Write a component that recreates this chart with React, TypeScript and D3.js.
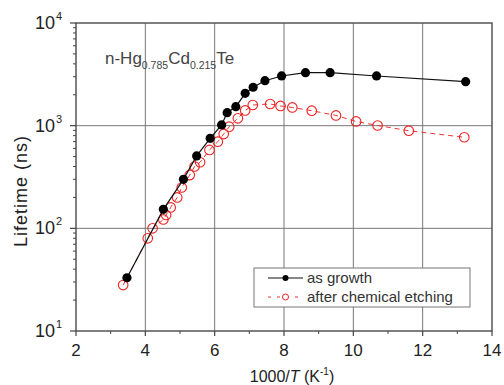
import React from 'react';
import * as d3 from 'd3';

// as growth
const growthX = [3.47, 4.52, 5.1, 5.48, 5.87, 6.2, 6.36, 6.61, 6.88, 7.11, 7.45, 7.93, 8.62, 9.33, 10.67, 13.24];
const growthY = [33, 153, 300, 507, 753, 1016, 1337, 1530, 2066, 2366, 2742, 3048, 3281, 3281, 3048, 2683];

// after chemical etching
const etchX = [3.36, 4.07, 4.21, 4.52, 4.6, 4.73, 4.92, 5.05, 5.28, 5.42, 5.58, 5.85, 6.09, 6.26, 6.42, 6.67, 6.88, 7.1, 7.6, 7.9, 8.24, 8.8, 9.5, 10.08, 10.7, 11.6, 13.2];
const etchY = [28, 80, 100, 122, 135, 160, 200, 250, 330, 400, 440, 580, 698, 829, 977, 1180, 1406, 1590, 1625, 1556, 1504, 1400, 1257, 1099, 1004, 893, 771];

const xTicks = [2, 4, 6, 8, 10, 12, 14];
const xMinor = [3, 5, 7, 9, 11, 13];
const yExps = [1, 2, 3, 4];

const W = 504;
const H = 385;
const margin = { top: 23, right: 12, bottom: 54, left: 76 };
const font = 'Liberation Sans, Arial, sans-serif';

export default function App() {
  const x = d3.scaleLinear().domain([2, 14]).range([margin.left, W - margin.right]);
  const y = d3.scaleLog().domain([10, 10000]).range([H - margin.bottom, margin.top]);

  const yMinor: number[] = [];
  for (let e = 1; e < 4; e++) {
    for (let m = 2; m <= 9; m++) yMinor.push(m * Math.pow(10, e));
  }

  const growth = growthX.map((v, i) => [v, growthY[i]] as [number, number]);
  const etch = etchX.map((v, i) => [v, etchY[i]] as [number, number]);
  const line = d3.line<[number, number]>().x(d => x(d[0])).y(d => y(d[1]));

  const x0 = x.range()[0], x1 = x.range()[1];
  const y0 = y.range()[0], y1 = y.range()[1];

  return (
    <svg width={W} height={H} style={{ position: 'absolute', left: 0, top: 0, background: '#fff' }} fontFamily={font}>
      {/* grid */}
      {xTicks.slice(1, -1).map(t => (
        <line key={'gx' + t} x1={x(t)} x2={x(t)} y1={y0} y2={y1} stroke="#777" strokeWidth={1} />
      ))}
      {[2, 3].map(e => (
        <line key={'gy' + e} x1={x0} x2={x1} y1={y(Math.pow(10, e))} y2={y(Math.pow(10, e))} stroke="#777" strokeWidth={1} />
      ))}
      <rect x={x0} y={y1} width={x1 - x0} height={y0 - y1} fill="none" stroke="#555" strokeWidth={1.5} />

      {/* x ticks */}
      {xTicks.map(t => (
        <g key={'xt' + t}>
          <line x1={x(t)} x2={x(t)} y1={y0} y2={y0 + 5} stroke="#444" strokeWidth={1.2} />
          <text x={x(t)} y={y0 + 25} textAnchor="middle" fontSize={17} fill="#222">{t}</text>
        </g>
      ))}
      {xMinor.map(t => (
        <line key={'xm' + t} x1={x(t)} x2={x(t)} y1={y0} y2={y0 + 3} stroke="#444" strokeWidth={1} />
      ))}

      {/* y ticks */}
      {yExps.map(e => (
        <g key={'yt' + e}>
          <line x1={x0 - 6} x2={x0} y1={y(Math.pow(10, e))} y2={y(Math.pow(10, e))} stroke="#444" strokeWidth={1.2} />
          <text x={x0 - 21} y={y(Math.pow(10, e)) + 6} textAnchor="end" fontSize={18} fill="#222">10</text>
          <text x={x0 - 20} y={y(Math.pow(10, e)) - 3} textAnchor="start" fontSize={11} fill="#222">{e}</text>
        </g>
      ))}
      {yMinor.map(v => (
        <line key={'ym' + v} x1={x0 - 3} x2={x0} y1={y(v)} y2={y(v)} stroke="#444" strokeWidth={1} />
      ))}

      {/* axis titles */}
      <text x={(x0 + x1) / 2 + 8} y={H - 3} textAnchor="middle" fontSize={16} fill="#222">
        1000/<tspan fontStyle="italic">T</tspan> (K<tspan fontSize={10} dy={-7}>-1</tspan><tspan dy={7}>)</tspan>
      </text>
      <text transform="translate(27,191) rotate(-90)" textAnchor="middle" fontSize={18} letterSpacing={1} fill="#222">
        Lifetime (ns)
      </text>

      {/* label */}
      <text x={105} y={64} fontSize={17} fill="#444">
        n-Hg<tspan fontSize={10.5} dy={5}>0.785</tspan><tspan dy={-5}>Cd</tspan><tspan fontSize={10.5} dy={5}>0.215</tspan><tspan dy={-5}>Te</tspan>
      </text>

      {/* series */}
      <path d={line(etch) || ''} fill="none" stroke="#e33" strokeWidth={1} strokeDasharray="5,4" />
      {etch.map((d, i) => (
        <circle key={'e' + i} cx={x(d[0])} cy={y(d[1])} r={4.8} fill="none" stroke="#e22" strokeWidth={1.1} />
      ))}
      <path d={line(growth) || ''} fill="none" stroke="#111" strokeWidth={1.2} />
      {growth.map((d, i) => (
        <circle key={'g' + i} cx={x(d[0])} cy={y(d[1])} r={4.6} fill="#000" />
      ))}

      {/* legend */}
      <g transform="translate(254,268)">
        <rect x={0} y={0} width={216} height={39} fill="#fff" stroke="#777" strokeWidth={1} />
        <line x1={14} x2={49} y1={10} y2={10} stroke="#111" strokeWidth={1.2} />
        <circle cx={31.5} cy={10} r={3} fill="#000" />
        <text x={53} y={15} fontSize={15} fill="#333">as growth</text>
        <line x1={14} x2={49} y1={29} y2={29} stroke="#e33" strokeWidth={1} strokeDasharray="3,6" />
        <circle cx={31.5} cy={29} r={3} fill="#fff" stroke="#e22" strokeWidth={1} />
        <text x={53} y={34} fontSize={15} fill="#333">after chemical etching</text>
      </g>
    </svg>
  );
}
